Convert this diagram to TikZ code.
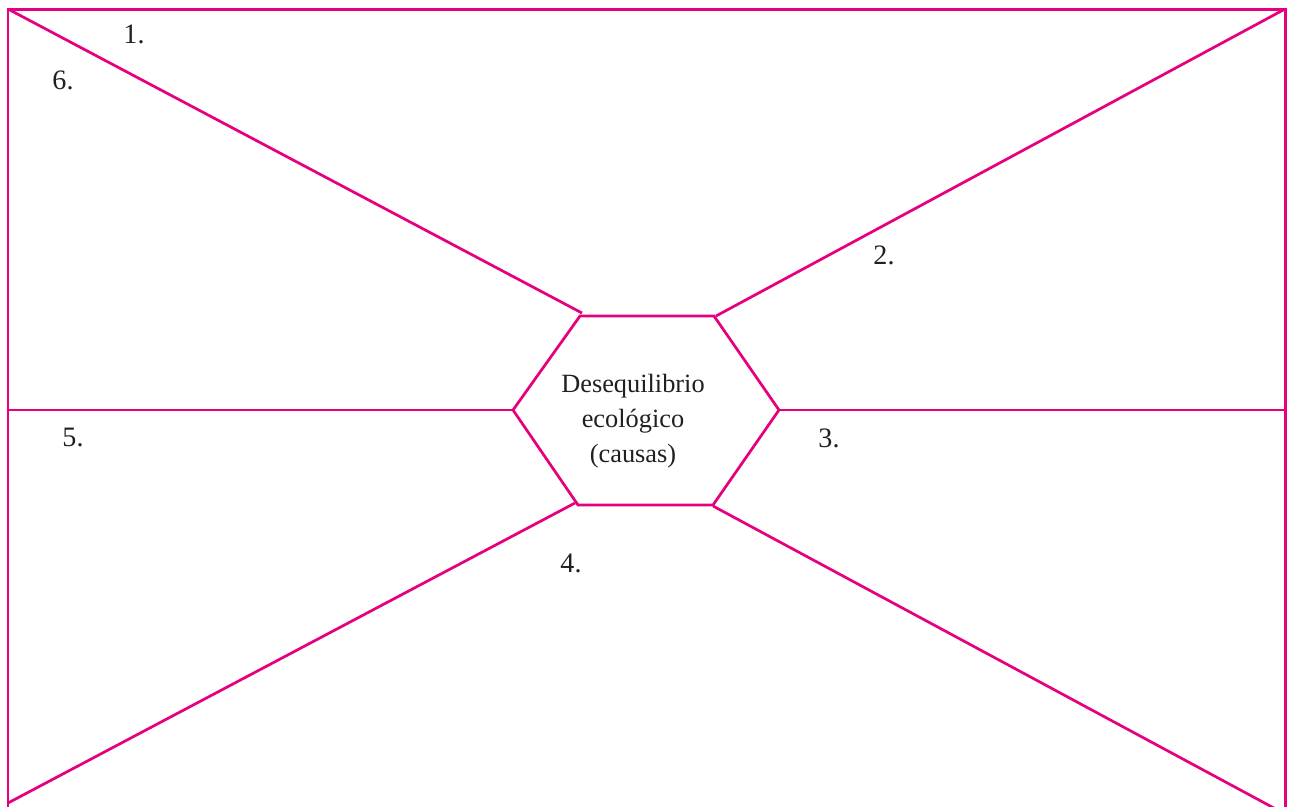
\documentclass[tikz,border=0pt]{standalone}
\usepackage{xcolor}
\usepackage{fontspec}
\setmainfont{Liberation Serif}
\usetikzlibrary{positioning}
\definecolor{rosa}{HTML}{E6007E}
\definecolor{tinta}{HTML}{231F20}
\tikzset{
  marco/.style={draw=rosa,line width=1.7pt},
  rayo/.style={draw=rosa,line width=1.55pt},
  num/.style={font=\fontsize{16}{19}\selectfont,text=tinta,inner sep=0pt},
  centro/.style={font=\fontsize{15}{20}\selectfont,text=tinta,align=center}
}
\begin{document}
\begin{tikzpicture}[x=0.02cm,y=-0.02cm]
  \useasboundingbox (0,0) rectangle (1291,806);
  \clip (0,0) rectangle (1291,806);
  % marco
  \coordinate (nw) at (8,9);  \coordinate (ne) at (1285,9);
  \coordinate (sw) at (8,803); \coordinate (se) at (1285,814);
  \coordinate (w) at (8,410);  \coordinate (e) at (1285,410);
  \draw[marco] (8,830) -- (nw) -- (ne) -- (1285,830);
  % hexagono
  \coordinate (h1) at (580,316); \coordinate (h2) at (714,316);
  \coordinate (h3) at (779,410); \coordinate (h4) at (713,505);
  \coordinate (h5) at (578,505); \coordinate (h6) at (513,410);
  \draw[rayo] (h1) -- (h2) -- (h3) -- (h4) -- (h5) -- (h6) -- cycle;
  \node[centro] (causa) at (633,421) {Desequilibrio\\ecológico\\(causas)};
  % rayos
  \coordinate (r1) at (582,313); \coordinate (r2) at (716,316);
  \coordinate (r4) at (575,503); \coordinate (r5) at (713,506);
  \draw[rayo] (nw) -- (r1);
  \draw[rayo] (r2) -- (ne);
  \draw[rayo] (w) -- (h6);
  \draw[rayo] (h3) -- (e);
  \draw[rayo] (r4) -- (sw);
  \draw[rayo] (r5) -- (se);
  % numeros
  \node[num] (n1) at (134,34) {1.};
  \node[num] (n6) at (63,80) {6.};
  \node[num] (n2) at (884,255) {2.};
  \node[num] (n5) at (73,437) {5.};
  \node[num] (n3) at (829,438) {3.};
  \node[num] (n4) at (571,563) {4.};
\end{tikzpicture}
\end{document}
